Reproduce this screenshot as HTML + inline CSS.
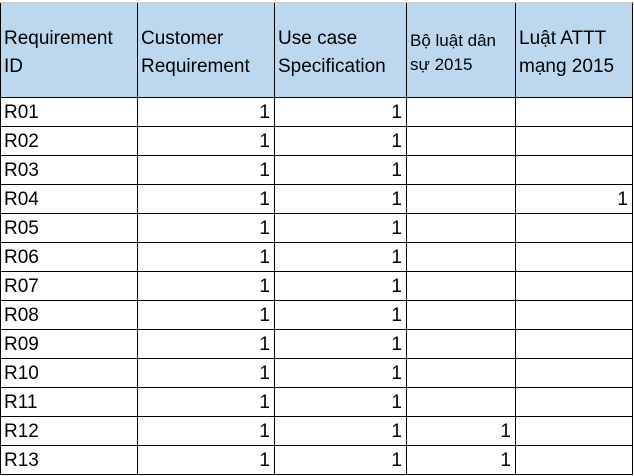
<!DOCTYPE html>
<html><head><meta charset="utf-8">
<style>
body{margin:0;width:634px;height:476px;background:#fff;overflow:hidden;position:relative;font-family:"Liberation Sans",sans-serif;}
.c{position:absolute;box-sizing:border-box;font-size:19px;color:#000;line-height:31px;white-space:nowrap;}
.h{background:#BDD7EE;line-height:28px;padding-top:22px;font-size:19px;}
.vl{position:absolute;width:1px;background:#000;}
.hl{position:absolute;height:1px;background:#000;}
</style></head><body>
<div style="position:absolute;left:0;top:2px;width:634px;height:1px;background:#c8c8c8"></div>
<div id="t"></div>
<script>
const headers=[["Requirement","ID"],["Customer","Requirement"],["Use case","Specification"],["Bộ luật dân","sự 2015"],["Luật ATTT","mạng 2015"]];
const ids=["R01","R02","R03","R04","R05","R06","R07","R08","R09","R10","R11","R12","R13"];
const cust=[1,1,1,1,1,1,1,1,1,1,1,1,1];
const usec=[1,1,1,1,1,1,1,1,1,1,1,1,1];
const bo=[null,null,null,null,null,null,null,null,null,null,null,1,1];
const attt=[null,null,null,1,null,null,null,null,null,null,null,null,null];
const xs=[0,137,274,406,515,632];
const top0=3,hb=97,rh=29;
const t=document.getElementById('t');
function cell(x0,x1,y,h,txt,right,cls,name){
  const d=document.createElement('div');
  
  
  d.className='c'+(cls?' '+cls:'');
  d.style.left=(x0+1)+'px';d.style.width=(x1-x0-1)+'px';d.style.top=y+'px';d.style.height=h+'px';
  d.style.textAlign=right?'right':'left';
  d.style.paddingLeft='3px';d.style.paddingRight='4px';
  d.innerHTML=txt;
  t.appendChild(d);
}
headers.forEach((h,i)=>{
  let fs=(i===3)?'style="font-size:17px;line-height:24px;display:inline-block;margin-top:4px"':'';
  cell(xs[i],xs[i+1],top0,hb-top0,'<span '+fs+'>'+h[0]+'<br>'+h[1]+'</span>',false,'h','header-'+i);
});
const cols=[ids,cust,usec,bo,attt];
ids.forEach((id,r)=>{
  const y=hb+r*rh;
  cols.forEach((col,c)=>{
    const v=col[r];
    cell(xs[c],xs[c+1],y,rh,v==null?'':String(v),c>0,'',c===0?'row-id-'+id:'cell-'+id+'-'+c);
  });
});
const bottom=hb+ids.length*rh;
xs.forEach((x,i)=>{const l=document.createElement('div');


l.className='vl';l.style.left=x+'px';l.style.top=top0+'px';l.style.height=(bottom-top0+1)+'px';t.appendChild(l);});
for(let r=0;r<=ids.length;r++){const l=document.createElement('div');


l.className='hl';l.style.left='0px';l.style.width='633px';l.style.top=(hb+r*rh)+'px';t.appendChild(l);}
</script>
</body></html>
